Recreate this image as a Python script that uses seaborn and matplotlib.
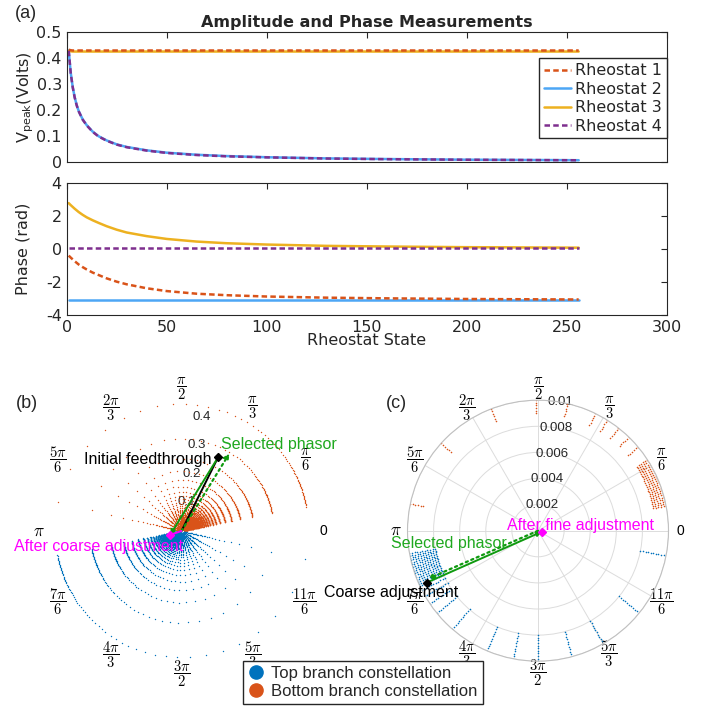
import numpy as np
import pandas as pd
import matplotlib
matplotlib.use("Agg")
import matplotlib.pyplot as plt
import seaborn as sns
from matplotlib.lines import Line2D

sns.set_style("white")
plt.rcParams["font.family"] = ["DejaVu Sans"]
plt.rcParams["axes.unicode_minus"] = False

# ---------------- panel (a) data ----------------
state = [1, 2, 3, 4, 5, 6, 8, 10, 13, 16, 20, 25, 30, 40, 50, 65, 80, 100, 130, 160, 200, 256]
amp_r1 = [0.433, 0.431, 0.430, 0.430, 0.430, 0.430, 0.430, 0.430, 0.430, 0.430, 0.430,
          0.430, 0.430, 0.430, 0.430, 0.430, 0.430, 0.430, 0.430, 0.430, 0.430, 0.430]
amp_r2 = [0.430, 0.345, 0.290, 0.250, 0.220, 0.197, 0.165, 0.143, 0.118, 0.100, 0.084,
          0.069, 0.059, 0.046, 0.037, 0.029, 0.024, 0.0195, 0.015, 0.0125, 0.010, 0.008]
amp_r3 = [0.428, 0.427, 0.426, 0.426, 0.426, 0.426, 0.426, 0.426, 0.426, 0.426, 0.426,
          0.426, 0.426, 0.426, 0.426, 0.426, 0.426, 0.426, 0.426, 0.426, 0.426, 0.426]
amp_r4 = [0.429, 0.344, 0.289, 0.249, 0.219, 0.196, 0.164, 0.142, 0.117, 0.099, 0.083,
          0.068, 0.058, 0.045, 0.036, 0.028, 0.023, 0.019, 0.0145, 0.012, 0.0098, 0.0078]
ph_r1 = [-0.40, -0.52, -0.63, -0.74, -0.84, -0.94, -1.10, -1.24, -1.43, -1.58, -1.78,
         -1.98, -2.14, -2.38, -2.55, -2.71, -2.80, -2.88, -2.95, -2.99, -3.03, -3.06]
ph_r2 = [-3.08] * len(state)
ph_r3 = [2.78, 2.66, 2.55, 2.44, 2.34, 2.24, 2.07, 1.92, 1.74, 1.58, 1.38,
         1.17, 1.00, 0.78, 0.61, 0.45, 0.35, 0.27, 0.19, 0.15, 0.11, 0.08]
ph_r4 = [0.04] * len(state)
series_names = ["Rheostat 1", "Rheostat 2", "Rheostat 3", "Rheostat 4"]

# ---------------- panel (b): coarse constellations ----------------
bot_angles_deg = [167, 151, 138, 127, 117, 109, 101, 94, 88, 83, 78, 73, 69, 65, 62, 59, 56, 53,
                  51, 49, 47, 45, 43, 41.5, 40, 38.5, 37, 35.8, 34.6, 33.5, 32.5, 31.5, 30.5,
                  29.6, 28.8, 28, 27.2, 26.5, 25.8, 25.1, 24.5, 23.9, 23.3, 22.7, 22.1, 21.6,
                  21.1, 20.6, 20.1, 19.6, 19.1, 18.6, 18.1, 17.6, 17.1, 16.6, 16.1, 15.6, 15.1,
                  14.6, 14.1, 13.6, 13.1, 12.6, 12.1, 11.6, 11.1]
top_angles_deg = [347, 331, 318, 307, 297, 289, 281, 274, 268, 263, 258, 253, 249, 245, 242, 239,
                  236, 233, 231, 229, 227, 225, 223, 221.5, 220, 218.5, 217, 215.8, 214.6, 213.5,
                  212.5, 211.5, 210.5, 209.6, 208.8, 208, 207.2, 206.5, 205.8, 205.1, 204.5,
                  203.9, 203.3, 202.7, 202.1, 201.6, 201.1, 200.6, 200.1, 199.6, 199.1, 198.6,
                  198.1, 197.6, 197.1, 196.6, 196.1, 195.6, 195.1, 194.6, 194.1, 193.6, 193.1,
                  192.6, 192.1, 191.6, 191.1]
bot_radii = [0.438, 0.318, 0.249, 0.206, 0.176, 0.153, 0.135, 0.121, 0.110, 0.100, 0.092, 0.085,
             0.079, 0.074, 0.069, 0.065, 0.061, 0.057, 0.054, 0.051, 0.048, 0.045, 0.042, 0.039,
             0.036, 0.033, 0.030, 0.027, 0.024, 0.021, 0.018, 0.016, 0.014, 0.0125, 0.0112,
             0.0100, 0.0090]
top_radii = [0.436, 0.316, 0.247, 0.204, 0.175, 0.152, 0.134, 0.120, 0.109, 0.099, 0.091, 0.084,
             0.078, 0.073, 0.068, 0.064, 0.060, 0.056, 0.053, 0.050, 0.047, 0.044, 0.041, 0.038,
             0.035, 0.032, 0.029, 0.026, 0.023, 0.020, 0.017, 0.015, 0.013, 0.0118, 0.0108,
             0.0098, 0.0088, 0.0080]

# ---------------- panel (c): fine constellations (zoomed) ----------------
c_bot_angles_deg = [168, 138, 111, 91, 77, 64, 58, 52, 46, 40, 33, 32, 31, 30, 29, 28, 27,
                    26, 25, 24, 23, 22, 21, 20, 19, 18, 17, 16, 15, 14, 13, 12, 11]
c_bot_radii = [0.0104, 0.0102, 0.0100, 0.0098, 0.0096, 0.0094, 0.0092, 0.0090]
c_top_angles_deg = [190, 191, 192, 193, 194, 195, 196, 197, 198, 199, 200, 201, 202, 203, 204,
                    205, 207, 210, 214, 219, 229, 247, 259, 270, 285, 300, 321, 349]
c_top_radii = [0.0104, 0.0102, 0.0100, 0.0098, 0.0096, 0.0094, 0.0092, 0.0090, 0.0088,
               0.0086, 0.0084, 0.0082, 0.0080]

# phasors (r, angle in degrees)
b_labels = ["Initial feedthrough", "Selected phasor", "After coarse adjustment"]
b_r = [0.283, 0.314, 0.0415]
b_deg = [63.6, 58.3, 199.0]
c_labels = ["Coarse adjustment", "Selected phasor", "After fine adjustment"]
c_r = [0.00942, 0.0092, 0.0003]
c_deg = [205.0, 203.6, 345.0]

theta_tick_deg = [0, 30, 60, 90, 120, 150, 180, 210, 240, 270, 300, 330]
theta_tick_labels = ["0", r"$\dfrac{\pi}{6}$", r"$\dfrac{\pi}{3}$", r"$\dfrac{\pi}{2}$",
                     r"$\dfrac{2\pi}{3}$", r"$\dfrac{5\pi}{6}$", r"$\pi$", r"$\dfrac{7\pi}{6}$",
                     r"$\dfrac{4\pi}{3}$", r"$\dfrac{3\pi}{2}$", r"$\dfrac{5\pi}{3}$",
                     r"$\dfrac{11\pi}{6}$"]
b_rticks = [0.1, 0.2, 0.3, 0.4]
b_rlabels = ["0.1", "0.2", "0.3", "0.4"]
c_rticks = [0.002, 0.004, 0.006, 0.008, 0.01]
c_rlabels = ["0.002", "0.004", "0.006", "0.008", "0.01"]

# ---------------- styling constants ----------------
C_BLUE, C_ORANGE, C_YEL, C_PURP, C_LBLUE = "#0072BD", "#D95319", "#EDB120", "#7E2F8E", "#4DA6F5"
GREEN_T, GREEN_A, MAG = "#1fa81f", "#0f9a0f", "#ff00ff"
DASH = (0, (2.2, 1.3))
SANS2 = "Liberation Sans"

W, H = 710, 709
fig = plt.figure(figsize=(7.1, 7.09), dpi=100)


def box(x0, y0, x1, y1):
    return [x0 / W, 1 - y1 / H, (x1 - x0) / W, (y1 - y0) / H]


ax_amp = fig.add_axes(box(66.7, 32.3, 666.7, 162.3))
ax_ph = fig.add_axes(box(66.7, 183, 666.7, 315))
ax_b = fig.add_axes(box(51, 400.5, 312, 661.5), projection="polar")
ax_c = fig.add_axes(box(407.5, 400.2, 668.5, 661.2), projection="polar")

# ---------------- panel (a) ----------------
styles = {"Rheostat 1": (C_ORANGE, DASH), "Rheostat 2": (C_LBLUE, "-"),
          "Rheostat 3": (C_YEL, "-"), "Rheostat 4": (C_PURP, DASH)}
amps = {"Rheostat 1": amp_r1, "Rheostat 2": amp_r2, "Rheostat 3": amp_r3, "Rheostat 4": amp_r4}
phs = {"Rheostat 1": ph_r1, "Rheostat 2": ph_r2, "Rheostat 3": ph_r3, "Rheostat 4": ph_r4}
draw_order = ["Rheostat 2", "Rheostat 3", "Rheostat 1", "Rheostat 4"]
for name in draw_order:
    col, ls = styles[name]
    sns.lineplot(x=state, y=amps[name], ax=ax_amp, color=col, linestyle=ls, lw=1.8,
                 label=name, legend=False)
    sns.lineplot(x=state, y=phs[name], ax=ax_ph, color=col, linestyle=ls, lw=1.8, legend=False)

handles = {l.get_label(): l for l in ax_amp.get_lines()}
ax_amp.legend(handles=[handles[n] for n in series_names], labels=series_names,
              loc="upper right", bbox_to_anchor=(1.0, 0.80), borderaxespad=0,
              fontsize=11.5, frameon=True, fancybox=False, edgecolor="#262626",
              framealpha=1, handlelength=1.7, handletextpad=0.25, labelspacing=0.22,
              borderpad=0.3)

for ax in (ax_amp, ax_ph):
    ax.set_xlim(0, 300)
    ax.set_xticks([0, 50, 100, 150, 200, 250, 300])
    ax.tick_params(direction="in", length=4, width=0.8, colors="#262626", labelsize=11.5,
                   top=True, right=True, labelcolor="#262626")
    for sp in ax.spines.values():
        sp.set_color("#262626")
        sp.set_linewidth(0.8)
    ax.grid(False)

ax_amp.set_ylim(0, 0.5)
ax_amp.set_yticks([0, 0.1, 0.2, 0.3, 0.4, 0.5])
ax_amp.set_yticklabels(["0", "0.1", "0.2", "0.3", "0.4", "0.5"])
ax_amp.set_xticklabels([])
ax_amp.set_ylabel(r"V$_{\mathregular{peak}}$(Volts)", fontsize=11.5, color="#262626")
ax_amp.yaxis.set_label_coords(-0.052, 0.5)
ax_amp.set_title("Amplitude and Phase Measurements", fontweight="bold", fontsize=11.5, pad=4)

ax_ph.set_ylim(-4, 4)
ax_ph.set_yticks([-4, -2, 0, 2, 4])
ax_ph.set_yticklabels(["-4", "-2", "0", "2", "4"])
ax_ph.set_xticklabels(["0", "50", "100", "150", "200", "250", "300"])
ax_ph.set_xlabel("Rheostat State", fontsize=11.5, color="#262626")
ax_ph.xaxis.set_label_coords(0.5, -0.14)
ax_ph.set_ylabel("Phase (rad)", fontsize=11.5, color="#262626")
ax_ph.yaxis.set_label_coords(-0.06, 0.5)

# ---------------- polar panels ----------------
def constellation(angles_deg, radii):
    tg, rg = np.meshgrid(np.deg2rad(angles_deg), radii)
    return pd.DataFrame({"theta": tg.ravel(), "r": rg.ravel()})


def setup_polar(ax, rmax, rticks, rlabels, grid):
    ax.set_ylim(0, rmax)
    ax.set_xticks(np.deg2rad(theta_tick_deg))
    ax.set_xticklabels(theta_tick_labels, fontsize=10.5, family=SANS2, math_fontfamily="cm")
    for lbl in ax.get_xticklabels():
        if lbl.get_text() == r"$\pi$":
            lbl.set_fontsize(12.5)
        elif lbl.get_text() == "0":
            lbl.set_fontsize(10)
    ax.tick_params(axis="x", length=0, pad=1.5, colors="k")
    ax.set_yticks(rticks)
    ax.set_yticklabels([])
    ax.tick_params(axis="y", length=0)
    ax.set_xlabel("")
    ax.set_ylabel("")
    for r, lab in zip(rticks, rlabels):
        ax.text(np.deg2rad(80), r, lab, ha="center", va="center", fontsize=9.5,
                color="#262626", family=SANS2, zorder=1)
    if grid:
        ax.grid(True, color="#dcdcdc", lw=0.7)
        ax.spines["polar"].set_color("#c0c0c0")
        ax.spines["polar"].set_linewidth(0.8)
    else:
        ax.grid(False)
        ax.spines["polar"].set_visible(False)


panels = ((ax_b, 1.0, constellation(bot_angles_deg, bot_radii),
           constellation(top_angles_deg, top_radii)),
          (ax_c, 1.3, constellation(c_bot_angles_deg, c_bot_radii),
           constellation(c_top_angles_deg, c_top_radii)))
for ax, s, dfb, dft in panels:
    sns.scatterplot(data=dfb, x="theta", y="r", ax=ax, color=C_ORANGE, s=s, linewidth=0,
                    legend=False, zorder=2)
    sns.scatterplot(data=dft, x="theta", y="r", ax=ax, color=C_BLUE, s=s, linewidth=0,
                    legend=False, zorder=2)

setup_polar(ax_b, 0.45, b_rticks, b_rlabels, grid=False)
setup_polar(ax_c, 0.01, c_rticks, c_rlabels, grid=True)


def pt(r, deg):
    return (np.deg2rad(deg), r)


def arrow(ax, start, end, color, ls="-", lw=1.4, ms=7):
    ax.annotate("", xy=end, xytext=start, annotation_clip=False,
                arrowprops=dict(arrowstyle="-|>", color=color, lw=lw, ls=ls, shrinkA=0,
                                shrinkB=0, mutation_scale=ms), zorder=5)


origin = (0.0, 0.0)
tF, tS, tR = pt(b_r[0], b_deg[0]), pt(b_r[1], b_deg[1]), pt(b_r[2], b_deg[2])
ax_b.plot([origin[0], tF[0]], [origin[1], tF[1]], color="k", lw=1.4, zorder=5)
arrow(ax_b, origin, tS, GREEN_A, ls=":", lw=1.6)
arrow(ax_b, tF, tR, GREEN_A, lw=1.4)
ax_b.plot([origin[0], tR[0]], [origin[1], tR[1]], color=MAG, lw=1.4, zorder=6)
ax_b.plot([tF[0]], [tF[1]], marker="D", ms=4, color="k", zorder=7)
ax_b.plot([tR[0]], [tR[1]], marker="D", ms=4, color=MAG, zorder=7)
ax_b.annotate(b_labels[0], xy=tF, xytext=(-6, -2), textcoords="offset pixels", ha="right",
              va="center", fontsize=11.5, family=SANS2, color="k", zorder=8)
ax_b.annotate(b_labels[1], xy=tS, xytext=(-8, 9), textcoords="offset pixels", ha="left",
              va="center", fontsize=11.5, family=SANS2, color=GREEN_T, zorder=8,
              annotation_clip=False)
ax_b.annotate(b_labels[2], xy=tR, xytext=(13, -11.5), textcoords="offset pixels", ha="right",
              va="center", fontsize=11.5, family=SANS2, color=MAG, zorder=8,
              annotation_clip=False)

cC, cS, cA = pt(c_r[0], c_deg[0]), pt(c_r[1], c_deg[1]), pt(c_r[2], c_deg[2])
arrow(ax_c, origin, cS, GREEN_A, ls=":", lw=1.6)
arrow(ax_c, cC, cA, GREEN_A, lw=1.4)
ax_c.plot([cC[0]], [cC[1]], marker="D", ms=4, color="k", zorder=7)
ax_c.plot([cA[0]], [cA[1]], marker="D", ms=4, color=MAG, zorder=7)
ax_c.annotate(c_labels[0], xy=cC, xytext=(31.5, -10), textcoords="offset pixels", ha="right",
              va="center", fontsize=11.5, family=SANS2, color="k", zorder=8,
              annotation_clip=False)
ax_c.annotate(c_labels[1], xy=origin, xytext=(-31, -12.5), textcoords="offset pixels",
              ha="right", va="center", fontsize=11.5, family=SANS2, color=GREEN_T, zorder=8,
              annotation_clip=False)
ax_c.annotate(c_labels[2], xy=cA, xytext=(-35, 6.5), textcoords="offset pixels", ha="left",
              va="center", fontsize=11.5, family=SANS2, color=MAG, zorder=8,
              annotation_clip=False)

# panel letters
for lab, x, y in (("(a)", 26, 13), ("(b)", 27, 403.5), ("(c)", 396.7, 403.5)):
    fig.text(x / W, 1 - y / H, lab, ha="center", va="center", fontsize=13, family=SANS2)

# bottom legend
leg_handles = [Line2D([], [], marker="o", ls="", color=C_BLUE, markersize=9.5,
                      label="Top branch constellation"),
               Line2D([], [], marker="o", ls="", color=C_ORANGE, markersize=9.5,
                      label="Bottom branch constellation")]
fig.legend(handles=leg_handles, loc="upper left", bbox_to_anchor=(243 / W, 1 - 661 / H),
           borderaxespad=0, frameon=True, fancybox=False, edgecolor="#262626", framealpha=1,
           prop={"family": SANS2, "size": 12}, handlelength=1.0, handletextpad=0.4,
           labelspacing=0.15, borderpad=0.3)

fig.savefig("out.png", dpi=100)
